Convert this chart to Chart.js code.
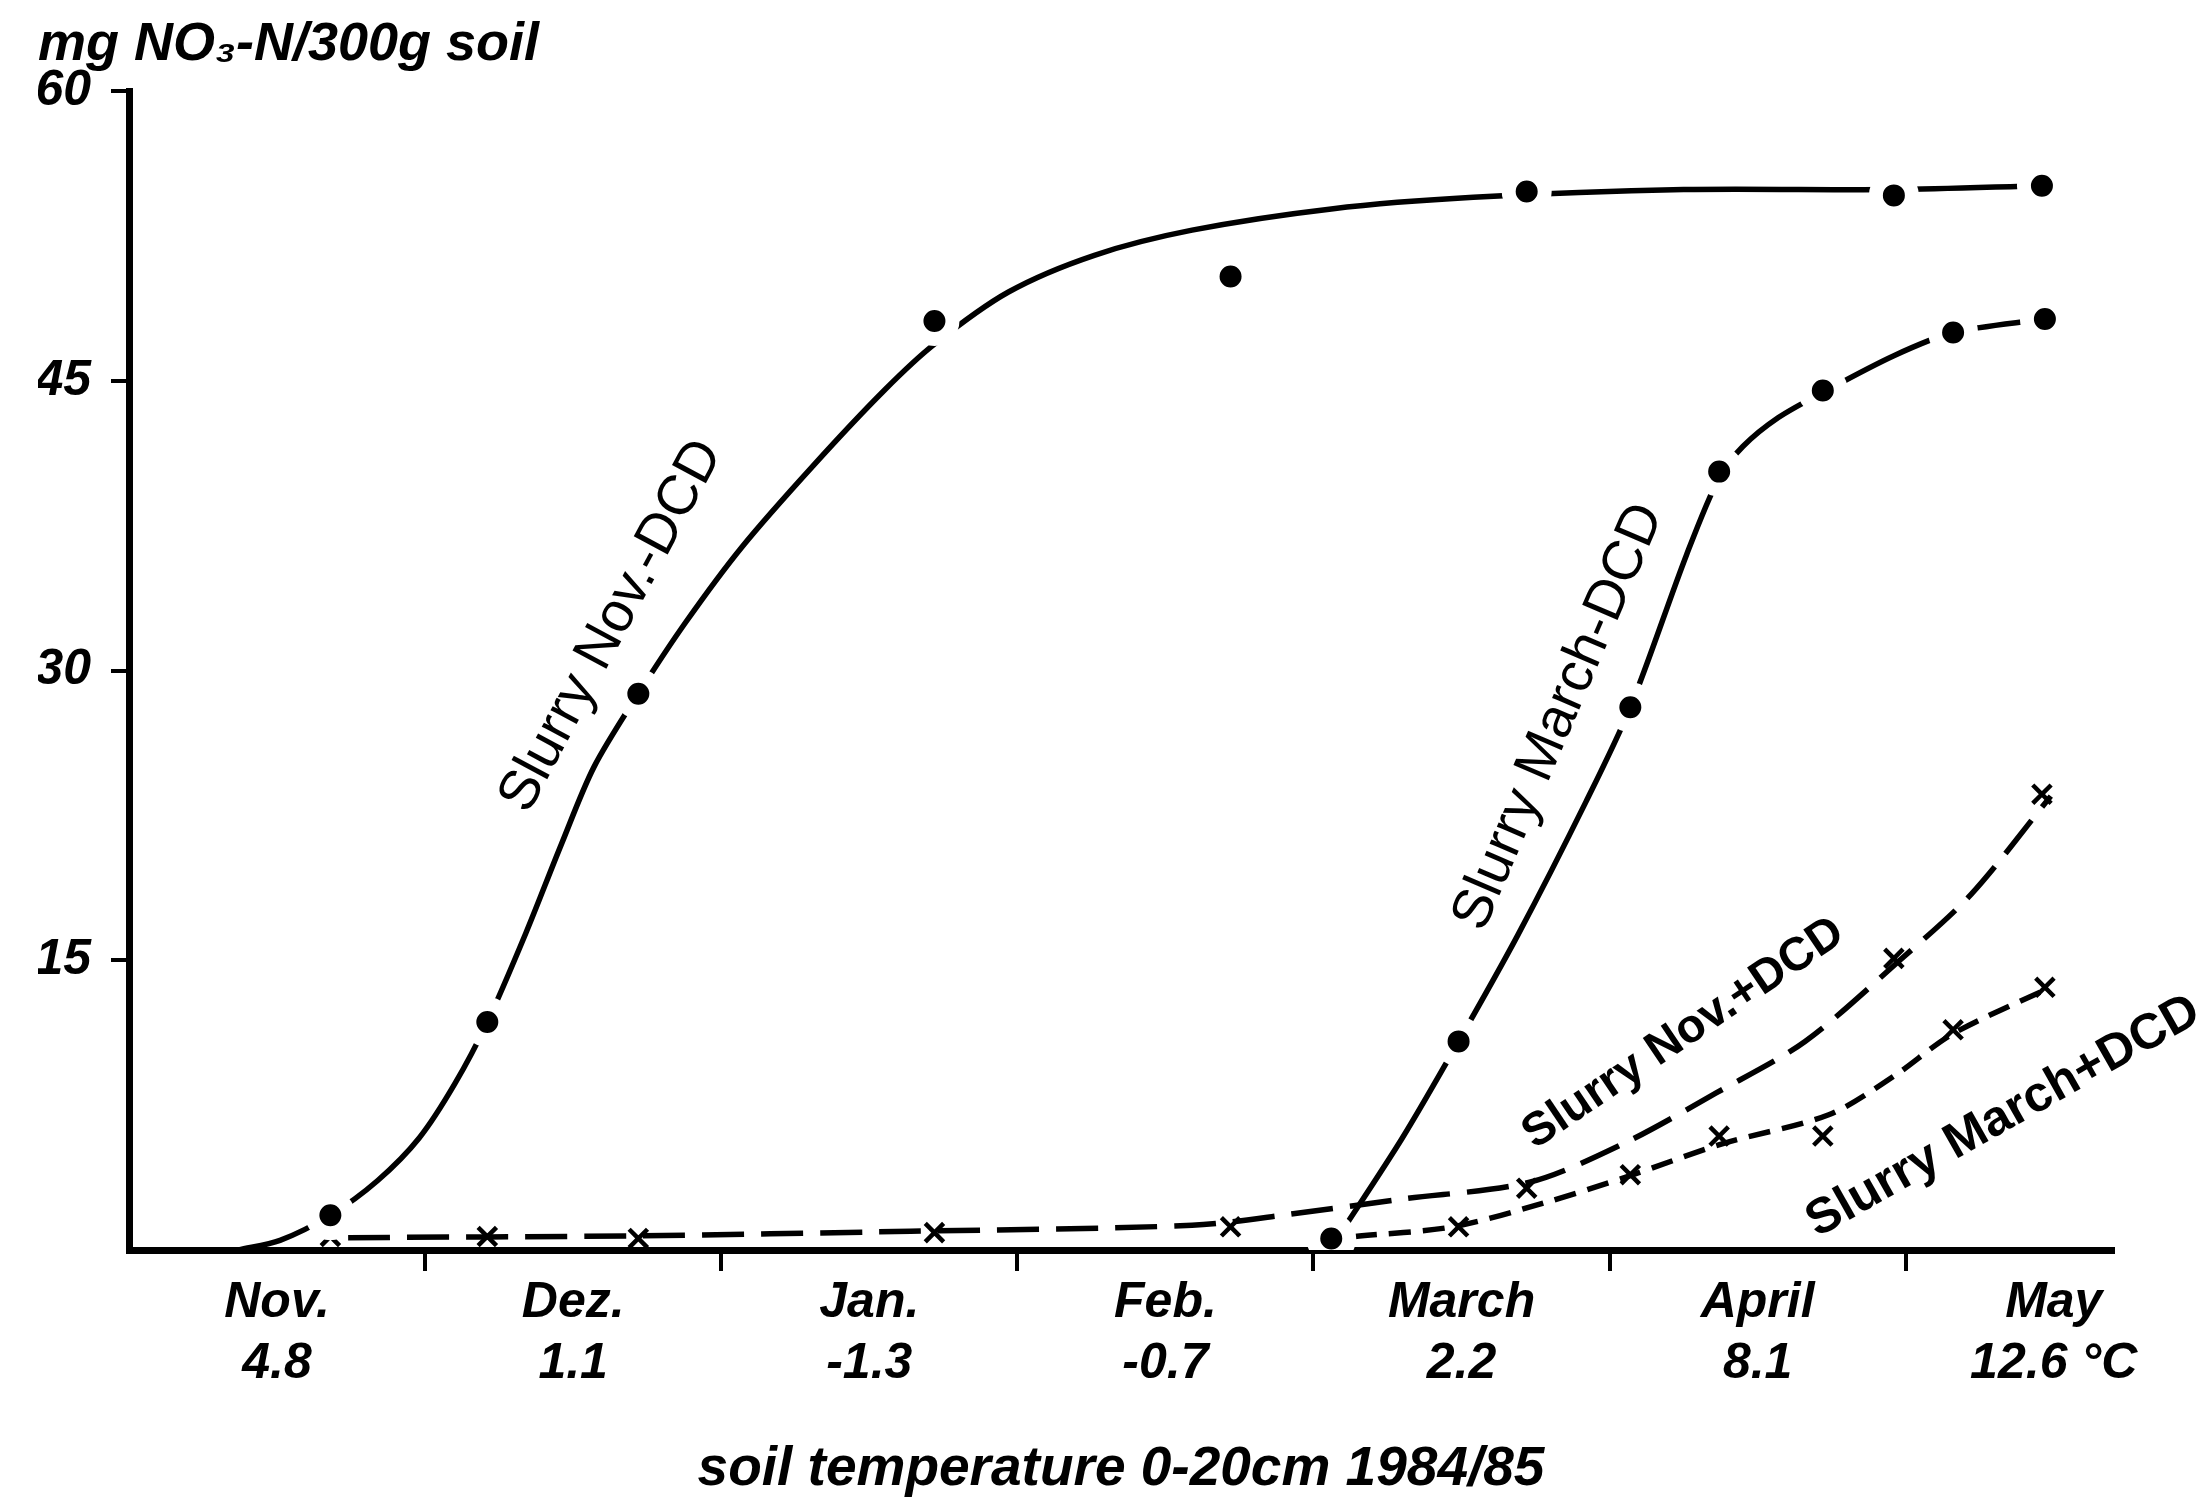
<!DOCTYPE html>
<html><head><meta charset="utf-8">
<script src="https://cdn.jsdelivr.net/npm/chart.js@4.4.1/dist/chart.umd.min.js"></script>
<style>html,body{margin:0;padding:0;background:#fff;} #wrap{width:2201px;height:1501px;position:relative;}</style>
</head><body><div id="wrap"><canvas id="c"></canvas></div>
<script>
// ---- data (x = months since 1 November) ----
const months = ['Nov.','Dez.','Jan.','Feb.','March','April','May'];
const temperatures = ['4.8','1.1','-1.3','-0.7','2.2','8.1','12.6 °C'];
const yTickValues = [0,15,30,45,60];
const yAxisTitle = 'mg NO₃-N/300g soil';
const xAxisTitle = 'soil temperature 0-20cm 1984/85';
const seriesNames = ['Slurry Nov.-DCD','Slurry March-DCD','Slurry Nov.+DCD','Slurry March+DCD'];

// measured points
const novDates      = [0.68,1.21,1.72,2.72,3.72,4.72,5.96,6.46];
const novMinusDCD   = [1.8,11.8,28.8,48.1,50.4,54.8,54.6,55.1];
const novPlusDCD    = [0.7,0.7,0.6,0.9,1.2,3.2,15.1,23.6];
const marchDates    = [4.06,4.49,5.07,5.37,5.72,6.16,6.47];
const marchMinusDCD = [0.6,10.8,28.1,40.3,44.5,47.5,48.2];
const marchPlusDCD  = [null,1.2,3.9,5.9,5.9,11.4,13.6];

// hand-fitted curves
const novMinusCurveX = [0.37,0.51,0.68,0.84,0.98,1.10,1.21,1.34,1.46,1.57,1.72,1.88,2.07,2.31,2.55,2.72,2.97,3.26,3.59,4.06,4.54,5.25,5.96,6.46];
const novMinusCurveY = [0,0.5,1.8,3.6,5.8,8.6,11.8,16.4,21.0,25.0,28.8,32.5,36.4,40.6,44.5,46.9,49.6,51.5,52.8,53.9,54.5,54.9,54.9,55.1];
const marchMinusCurveX = [4.08,4.30,4.49,4.69,4.92,5.07,5.26,5.37,5.45,5.57,5.72,5.96,6.16,6.47];
const marchMinusCurveY = [0.6,5.8,10.8,16.3,23.2,28.1,36.0,40.0,41.6,43.1,44.4,46.3,47.5,48.2];
const novPlusCurveX = [0.74,1.69,2.64,3.59,3.92,4.30,4.73,5.05,5.36,5.66,5.98,6.22,6.49];
const novPlusCurveY = [0.64,0.73,0.97,1.28,1.85,2.64,3.51,5.53,8.13,10.8,15.0,18.4,23.5];
const marchPlusCurveX = [4.14,4.47,4.77,5.06,5.38,5.74,5.96,6.16,6.49];
const marchPlusCurveY = [0.7,1.2,2.4,3.8,5.5,7.0,9.0,11.2,13.6];

// ---- helpers ----
const pts = (xs, ys) => xs.map((x,i) => ({x, y: ys[i]})).filter(p => p.y !== null);
const FONT = "'Liberation Sans', Arial, sans-serif";
const monthCenters = months.map((m,i) => i + 0.5);
const monthBounds = months.slice(1).map((m,i) => i + 1);

const dotStyle = {
  type:'scatter', showLine:false, pointStyle:'circle', pointRadius:18, pointHoverRadius:18,
  pointBackgroundColor:'#000', pointBorderColor:'#fff', pointBorderWidth:14
};
const crossStyle = {
  type:'scatter', showLine:false, pointStyle:'crossRot', pointRadius:13, pointHoverRadius:13,
  pointBorderColor:'#000', pointBorderWidth:4.5
};
const curveStyle = {
  type:'scatter', showLine:true, pointRadius:0, pointHoverRadius:0, borderColor:'#000',
  borderWidth:5.5, tension:0.3, fill:false
};

const curveLabels = {
  id:'curveLabels',
  afterDatasetsDraw(chart, args, opts) {
    const {ctx, scales:{x, y}} = chart;
    opts.items.forEach(it => {
      ctx.save();
      ctx.translate(x.getPixelForValue(it.x), y.getPixelForValue(it.y));
      ctx.rotate(it.angle * Math.PI / 180);
      ctx.font = it.font;
      ctx.fillStyle = '#000';
      ctx.textAlign = 'center';
      ctx.textBaseline = 'middle';
      ctx.fillText(it.text, 0, 0);
      ctx.restore();
    });
  }
};

new Chart(document.getElementById('c'), {
  type:'scatter',
  data:{ datasets:[
    {...dotStyle, label:seriesNames[0]+' points', data:pts(novDates, novMinusDCD)},
    {...dotStyle, label:seriesNames[1]+' points', data:pts(marchDates, marchMinusDCD)},
    {...crossStyle, label:seriesNames[2]+' points', data:pts(novDates, novPlusDCD)},
    {...crossStyle, label:seriesNames[3]+' points', data:pts(marchDates, marchPlusDCD)},
    {...curveStyle, label:seriesNames[0], data:pts(novMinusCurveX, novMinusCurveY)},
    {...curveStyle, label:seriesNames[1], data:pts(marchMinusCurveX, marchMinusCurveY)},
    {...curveStyle, label:seriesNames[2], borderDash:[42,17], data:pts(novPlusCurveX, novPlusCurveY)},
    {...curveStyle, label:seriesNames[3], borderDash:[22,12], data:pts(marchPlusCurveX, marchPlusCurveY)}
  ]},
  options:{
    responsive:true, maintainAspectRatio:false, animation:false, devicePixelRatio:1,
    layout:{ padding:{ left:38, right:88, top:0, bottom:0 } },
    plugins:{
      legend:{ display:false }, tooltip:{ enabled:false },
      title:{ display:true, text:yAxisTitle, align:'start', color:'#000',
        font:{ family:FONT, size:54, style:'italic', weight:'bold', lineHeight:1.15 },
        padding:{ top:14, bottom:15 } },
      curveLabels:{ items:[
        { text:seriesNames[0], x:1.63, y:32.3, angle:-61.8, font:"56px "+FONT },
        { text:seriesNames[1], x:4.83, y:27.6, angle:-66.8, font:"56px "+FONT },
        { text:seriesNames[2], x:5.25, y:11.2, angle:-34, font:"bold 47px "+FONT },
        { text:seriesNames[3], x:6.33, y:6.9, angle:-29.5, font:"bold 50px "+FONT }
      ]}
    },
    scales:{
      x:{
        type:'linear', min:0, max:6.7, position:'bottom',
        afterBuildTicks(s){ s.ticks = [...monthBounds, ...monthCenters].sort((a,b)=>a-b).map(v => ({value:v})); },
        afterFit(s){ s.height = 251; },
        border:{ display:true, color:'#000', width:7 },
        grid:{ drawOnChartArea:false, drawTicks:true, tickLength:21, lineWidth:4,
          color:(c) => (c.tick && Number.isInteger(c.tick.value)) ? '#000' : 'rgba(0,0,0,0)' },
        ticks:{ autoSkip:false, maxRotation:0, minRotation:0, padding:2, color:'#000',
          font:{ family:FONT, size:50, style:'italic', weight:'bold', lineHeight:1.22 },
          callback(v){ const i = monthCenters.indexOf(v); return i >= 0 ? [months[i], temperatures[i]] : ''; } },
        title:{ display:true, text:xAxisTitle, color:'#000', padding:{ top:0, bottom:0 },
          font:{ family:FONT, size:55, style:'italic', weight:'bold', lineHeight:1.15 } }
      },
      y:{
        type:'linear', min:0, max:60, position:'left',
        afterBuildTicks(s){ s.ticks = yTickValues.map(v => ({value:v})); },
        afterFit(s){ s.width = 91; },
        border:{ display:true, color:'#000', width:7 },
        grid:{ drawOnChartArea:false, drawTicks:true, tickLength:18, lineWidth:4,
          color:(c) => (c.tick && c.tick.value === 0) ? 'rgba(0,0,0,0)' : '#000' },
        ticks:{ padding:20, color:'#000',
          font:{ family:FONT, size:50, style:'italic', weight:'bold' },
          callback(v){ return v === 0 ? '' : String(v); } }
      }
    }
  },
  plugins:[curveLabels]
});
</script></body></html>
